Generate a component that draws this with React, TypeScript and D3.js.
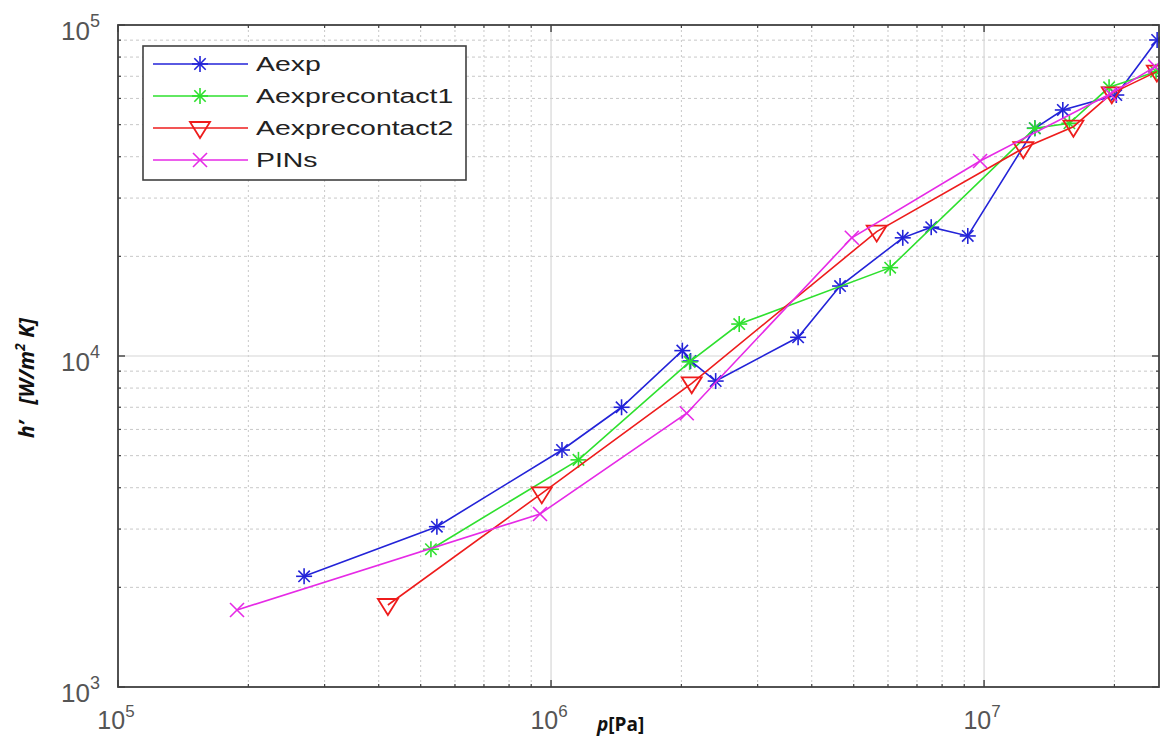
import React from "react";
import * as d3 from "d3";

const aexpP = [2.69e5, 5.45e5, 1.06e6, 1.455e6, 2.01e6, 2.10e6, 2.40e6, 3.72e6, 4.65e6, 6.49e6, 7.55e6, 9.17e6, 1.31e7, 1.52e7, 2.02e7, 2.51e7];
const aexpH = [2160, 3050, 5200, 7000, 10380, 9660, 8400, 11390, 16270, 22750, 24500, 23050, 48760, 55370, 61440, 90100];

const rc1P = [5.28e5, 1.157e6, 2.09e6, 2.72e6, 6.07e6, 1.31e7, 1.574e7, 1.944e7, 2.495e7];
const rc1H = [2607, 4855, 9600, 12490, 18490, 48760, 50480, 64830, 72280];

const rc2P = [4.2e5, 9.52e5, 2.113e6, 5.65e6, 1.232e7, 1.608e7, 1.972e7, 2.506e7];
const rc2H = [1769, 3846, 8270, 23750, 42420, 49290, 62170, 72300];

const pinsP = [1.883e5, 9.43e5, 2.058e6, 4.95e6, 9.79e6, 1.954e7, 2.485e7];
const pinsH = [1709, 3333, 6715, 22760, 38840, 61880, 74830];

const seriesNames = ["Aexp", "Aexprecontact1", "Aexprecontact2", "PINs"];
const xMajor = [1e5, 1e6, 1e7];
const yMajor = [1e3, 1e4, 1e5];
const xDomain = [1e5, 2.535e7];
const yDomain = [1e3, 1e5];

const W = 1160, H = 737;
const L = 118, R = 1159, T = 25, B = 687;

const series = [
  { name: seriesNames[0], p: aexpP, h: aexpH, color: "#2323d8", marker: "star" },
  { name: seriesNames[1], p: rc1P, h: rc1H, color: "#2ee02e", marker: "star" },
  { name: seriesNames[2], p: rc2P, h: rc2H, color: "#ee1c1c", marker: "tri" },
  { name: seriesNames[3], p: pinsP, h: pinsH, color: "#e62ae6", marker: "x" },
];

function Marker({ type, x, y, color }: { type: string; x: number; y: number; color: string }) {
  if (type === "star") {
    const r = 8, d = 5.7;
    return (
      <g stroke={color} strokeWidth={1.6} fill="none">
        <line x1={x - r} y1={y} x2={x + r} y2={y} />
        <line x1={x} y1={y - r} x2={x} y2={y + r} />
        <line x1={x - d} y1={y - d} x2={x + d} y2={y + d} />
        <line x1={x - d} y1={y + d} x2={x + d} y2={y - d} />
      </g>
    );
  }
  if (type === "tri") {
    const w = 10, h1 = 6, h2 = 10;
    return (
      <path d={`M${x - w},${y - h1}L${x + w},${y - h1}L${x},${y + h2}Z`} stroke={color} strokeWidth={1.8} fill="none" />
    );
  }
  const r = 7;
  return (
    <g stroke={color} strokeWidth={1.6}>
      <line x1={x - r} y1={y - r} x2={x + r} y2={y + r} />
      <line x1={x - r} y1={y + r} x2={x + r} y2={y - r} />
    </g>
  );
}

export default function App() {
  const x = d3.scaleLog().domain(xDomain).range([L, R]);
  const y = d3.scaleLog().domain(yDomain).range([B, T]);

  const xMinor: number[] = [];
  for (const base of [1e5, 1e6, 1e7]) for (let k = 2; k <= 9; k++) { const v = base * k; if (v <= xDomain[1]) xMinor.push(v); }
  const yMinor: number[] = [];
  for (const base of [1e3, 1e4]) for (let k = 2; k <= 9; k++) yMinor.push(base * k);

  const line = d3.line<[number, number]>().x((d) => x(d[0])).y((d) => y(d[1]));
  const gridCol = "#c8c8c8";
  const axisCol = "#404040";
  const tickFont = "'Liberation Sans', Arial, sans-serif";
  const exp = (v: number) => Math.round(Math.log10(v));

  return (
    <svg width={W} height={H} style={{ position: "absolute", left: 0, top: 0, background: "#fff" }}>
      <rect x={0} y={0} width={W} height={H} fill="#fff" />
      {/* minor grid */}
      {xMinor.map((v, i) => (
        <line key={"gx" + i} x1={x(v)} x2={x(v)} y1={T} y2={B} stroke={gridCol} strokeWidth={1} strokeDasharray="2,3" />
      ))}
      {yMinor.map((v, i) => (
        <line key={"gy" + i} x1={L} x2={R} y1={y(v)} y2={y(v)} stroke={gridCol} strokeWidth={1} strokeDasharray="3,3" />
      ))}
      {/* major grid */}
      {xMajor.slice(1).map((v, i) => (
        <line key={"Gx" + i} x1={x(v)} x2={x(v)} y1={T} y2={B} stroke="#d6d6d6" strokeWidth={1.2} />
      ))}
      <line x1={L} x2={R} y1={y(1e4)} y2={y(1e4)} stroke="#d6d6d6" strokeWidth={1.2} />

      {/* ticks */}
      {xMinor.map((v, i) => (
        <g key={"tx" + i} stroke={axisCol} strokeWidth={1.2}>
          <line x1={x(v)} x2={x(v)} y1={B} y2={B - 3} />
          <line x1={x(v)} x2={x(v)} y1={T} y2={T + 3} />
        </g>
      ))}
      {xMajor.map((v, i) => (
        <g key={"TX" + i} stroke={axisCol} strokeWidth={1.4}>
          <line x1={x(v)} x2={x(v)} y1={B} y2={B - 7} />
          <line x1={x(v)} x2={x(v)} y1={T} y2={T + 7} />
        </g>
      ))}
      {yMinor.map((v, i) => (
        <g key={"ty" + i} stroke={axisCol} strokeWidth={1.2}>
          <line x1={L} x2={L + 3} y1={y(v)} y2={y(v)} />
          <line x1={R} x2={R - 3} y1={y(v)} y2={y(v)} />
        </g>
      ))}
      {yMajor.map((v, i) => (
        <g key={"TY" + i} stroke={axisCol} strokeWidth={1.4}>
          <line x1={L} x2={L + 7} y1={y(v)} y2={y(v)} />
          <line x1={R} x2={R - 7} y1={y(v)} y2={y(v)} />
        </g>
      ))}

      {/* series */}
      {series.map((s) => {
        const pts = s.p.map((p, i) => [p, s.h[i]] as [number, number]);
        return (
          <g key={s.name}>
            <path d={line(pts) || ""} fill="none" stroke={s.color} strokeWidth={1.6} />
            {pts.map((d, i) => (
              <Marker key={i} type={s.marker} x={x(d[0])} y={y(d[1])} color={s.color} />
            ))}
          </g>
        );
      })}

      {/* axes box */}
      <rect x={L} y={T} width={R - L} height={B - T} fill="none" stroke={axisCol} strokeWidth={1.8} />

      {/* y tick labels */}
      {yMajor.map((v, i) => (
        <text key={"ly" + i} x={100} y={y(v) + 15} textAnchor="end" fontFamily={tickFont} fontSize={26} fill="#555">
          10<tspan fontSize={18} dy={-13}>{exp(v)}</tspan>
        </text>
      ))}
      {/* x tick labels */}
      {xMajor.map((v, i) => (
        <text key={"lx" + i} x={x(v) - 2} y={729} textAnchor="middle" fontFamily={tickFont} fontSize={25} fill="#555">
          10<tspan fontSize={17} dy={-12}>{exp(v)}</tspan>
        </text>
      ))}

      {/* axis labels */}
      <text x={597} y={731} fontFamily="'Open Sans', 'Liberation Sans', sans-serif" fontWeight="bold" fontSize={19} fill="#111">
        <tspan fontStyle="italic">p</tspan>[Pa]
      </text>
      <text transform="translate(34,378) rotate(-90)" textAnchor="middle" fontFamily="'Open Sans', 'Liberation Sans', sans-serif" fontWeight="bold" fontStyle="italic" fontSize={21} fill="#111" style={{ whiteSpace: "pre" }}>
        {"h’   [W/m"}<tspan fontSize={14} dy={-9}>2</tspan><tspan dy={9}>{" K]"}</tspan>
      </text>

      {/* legend */}
      <rect x={143} y={46} width={323} height={134} fill="#fff" stroke={axisCol} strokeWidth={1.6} />
      {series.map((s, i) => {
        const ly = 64 + i * 32;
        return (
          <g key={"lg" + i}>
            <line x1={153} x2={248} y1={ly} y2={ly} stroke={s.color} strokeWidth={1.6} />
            <Marker type={s.marker} x={200} y={ly} color={s.color} />
            <text transform={`translate(256,${ly + 7}) scale(1.42,1)`} fontFamily={tickFont} fontSize={20} fill="#222">
              {s.name}
            </text>
          </g>
        );
      })}
    </svg>
  );
}
